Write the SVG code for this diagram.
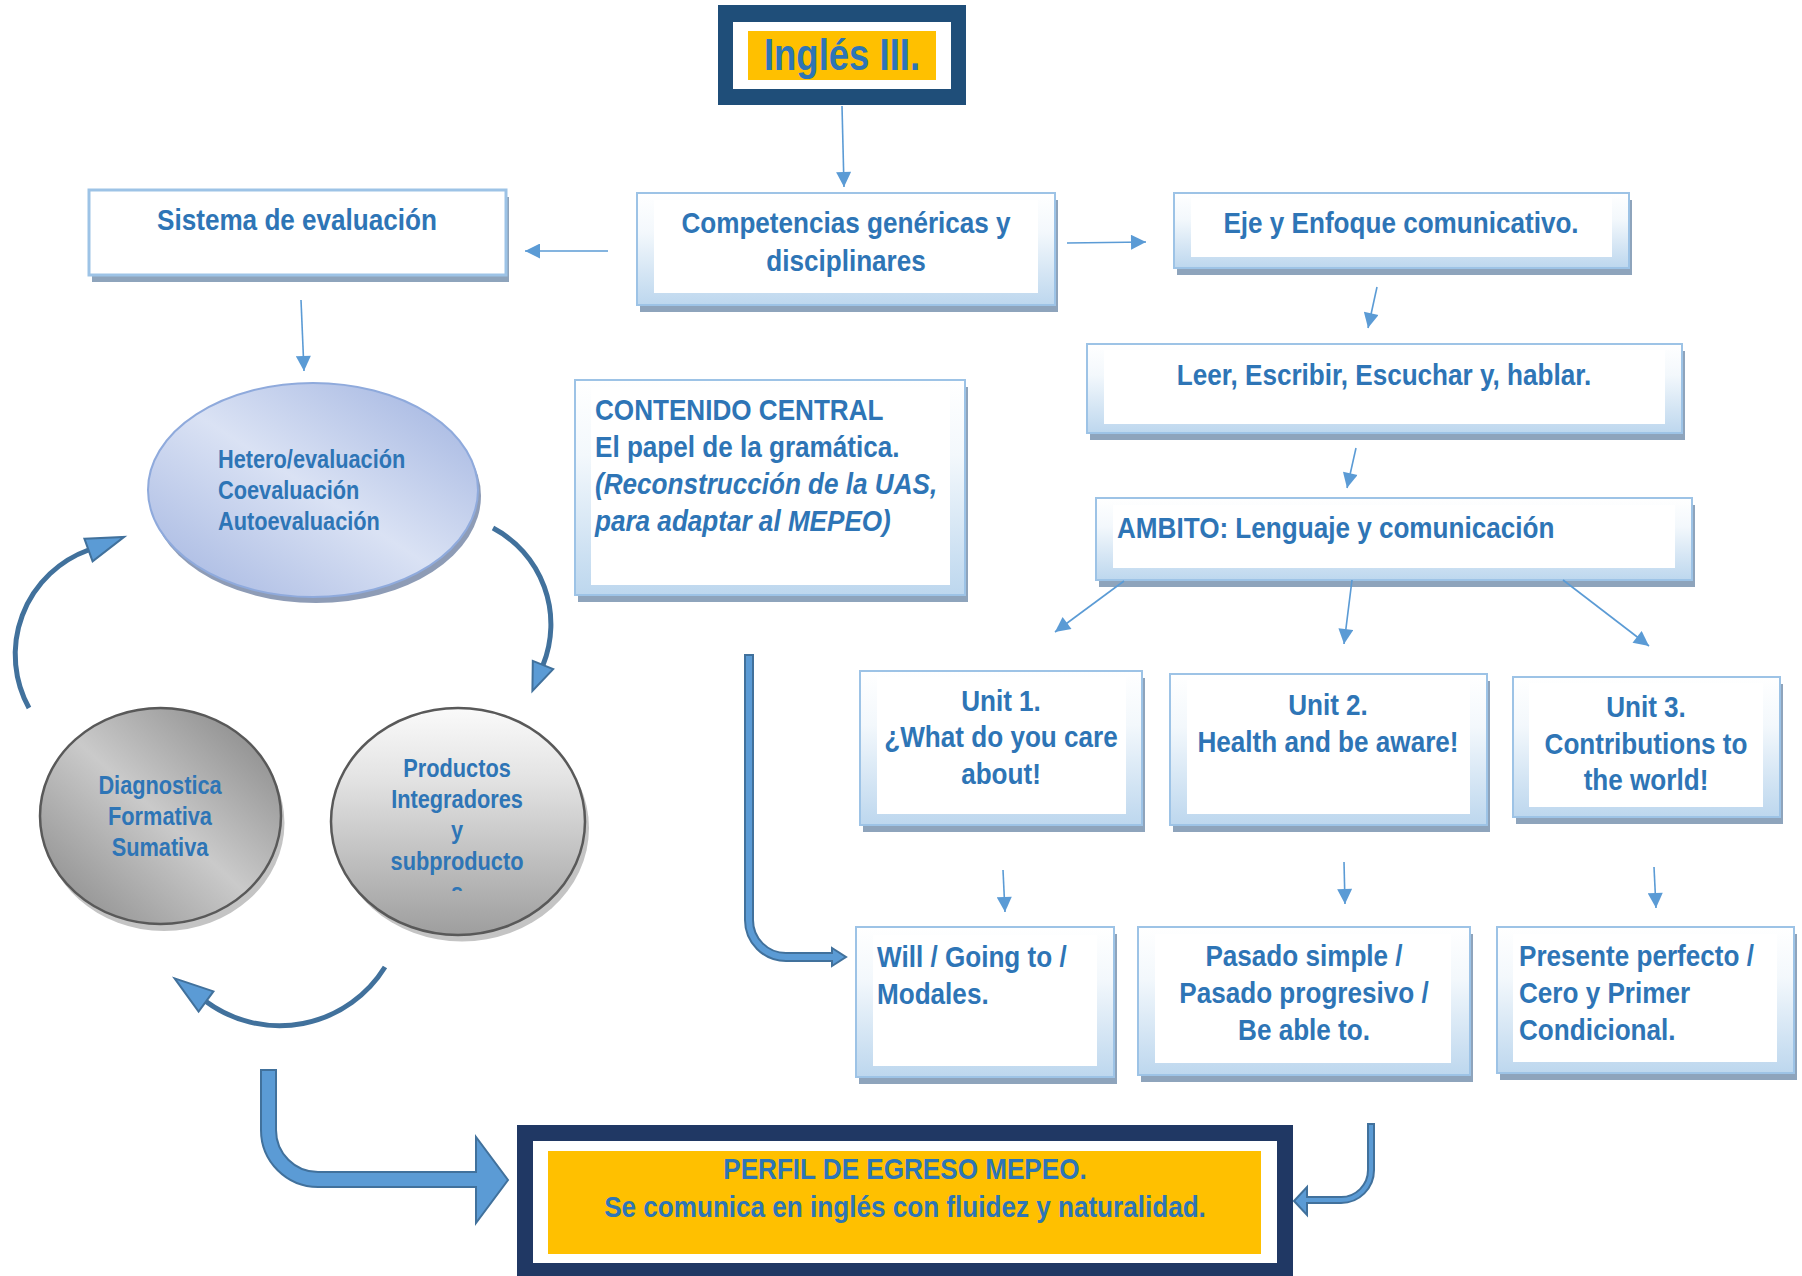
<svg xmlns="http://www.w3.org/2000/svg" width="1802" height="1276" viewBox="0 0 1802 1276">
<defs>
<style>
.t{font-family:"Liberation Sans",Arial,sans-serif;font-weight:bold;fill:#2E75B6;font-size:30px}
.c{text-anchor:middle}
.sm{font-size:25px}
.it{font-style:italic}
.shadow{fill:#8EA4BC}
.frame{fill:url(#frameGrad);stroke:#9DC3E6;stroke-width:2}
.inner{fill:#FFFFFF}
.thin{stroke:#5B9BD5;stroke-width:1.6;fill:none;marker-end:url(#ah)}
.arc{stroke:#41719C;stroke-width:5;fill:none}
.head{fill:#5B9BD5;stroke:#41719C;stroke-width:2;stroke-linejoin:miter}
.bent{fill:#5B9BD5;stroke:#41719C;stroke-width:2}
</style>
<linearGradient id="frameGrad" x1="0" y1="0" x2="0" y2="1">
<stop offset="0" stop-color="#FFFFFF"/>
<stop offset="0.35" stop-color="#F3F8FC"/>
<stop offset="1" stop-color="#BDD7EE"/>
</linearGradient>
<linearGradient id="blueGrad" x1="1" y1="0" x2="0" y2="1">
<stop offset="0" stop-color="#9EB1DF"/>
<stop offset="0.5" stop-color="#DAE2F4"/>
<stop offset="1" stop-color="#A2B4E0"/>
</linearGradient>
<linearGradient id="grayGrad" x1="1" y1="0" x2="0" y2="1">
<stop offset="0" stop-color="#808080"/>
<stop offset="0.5" stop-color="#CACACA"/>
<stop offset="1" stop-color="#858585"/>
</linearGradient>
<linearGradient id="gray2Grad" x1="0" y1="0" x2="0" y2="1">
<stop offset="0" stop-color="#FAFAFA"/>
<stop offset="0.3" stop-color="#E4E4E4"/>
<stop offset="1" stop-color="#9E9E9E"/>
</linearGradient>
<marker id="ah" viewBox="0 0 16 16" refX="16" refY="8" markerWidth="16" markerHeight="15" orient="auto" markerUnits="userSpaceOnUse">
<path d="M0,0 L16,8 L0,16 Z" fill="#5B9BD5"/>
</marker>
<clipPath id="prodClip"><rect x="320" y="700" width="280" height="191"/></clipPath>
</defs>
<rect width="1802" height="1276" fill="#FFFFFF"/>

<g id="node-ingles">
<rect x="718" y="5" width="248" height="100" fill="#1F4E79"/>
<rect x="733" y="22" width="218" height="67" fill="#FFFFFF"/>
<rect x="748" y="31" width="188" height="49" fill="#FFC000"/>
<g transform="translate(842,0) scale(0.83,1)"><text class="t c" x="0" y="70" style="font-size:44px">Inglés III.</text></g>
</g>

<g id="node-sistema">
<rect class="shadow" x="92" y="197" width="417" height="85"/>
<rect x="89" y="190" width="417" height="85" fill="#FFFFFF" stroke="#9DC3E6" stroke-width="3"/>
<g transform="translate(297,0) scale(0.87,1)"><text class="t c" x="0" y="230">Sistema de evaluación</text></g>
</g>

<g id="node-competencias">
<rect class="shadow" x="640" y="200" width="418" height="112"/>
<rect class="frame" x="637" y="193" width="418" height="112"/>
<rect class="inner" x="654" y="200" width="384" height="93"/>
<g transform="translate(846,0) scale(0.87,1)"><text class="t c"><tspan x="0" y="233">Competencias genéricas y</tspan><tspan x="0" y="271">disciplinares</tspan></text></g>
</g>

<g id="node-eje">
<rect class="shadow" x="1177" y="200" width="455" height="75"/>
<rect class="frame" x="1174" y="193" width="455" height="75"/>
<rect class="inner" x="1191" y="198" width="421" height="59"/>
<g transform="translate(1401,0) scale(0.87,1)"><text class="t c" x="0" y="233">Eje y Enfoque comunicativo.</text></g>
</g>

<g id="node-leer">
<rect class="shadow" x="1090" y="351" width="595" height="89"/>
<rect class="frame" x="1087" y="344" width="595" height="89"/>
<rect class="inner" x="1104" y="350" width="561" height="74"/>
<g transform="translate(1384,0) scale(0.87,1)"><text class="t c" x="0" y="385">Leer, Escribir, Escuchar y, hablar.</text></g>
</g>

<g id="node-ambito">
<rect class="shadow" x="1099" y="505" width="596" height="82"/>
<rect class="frame" x="1096" y="498" width="596" height="82"/>
<rect class="inner" x="1113" y="505" width="562" height="63"/>
<g transform="translate(1117,0) scale(0.87,1)"><text class="t" x="0" y="538">AMBITO: Lenguaje y comunicación</text></g>
</g>

<g id="node-contenido">
<rect class="shadow" x="578" y="387" width="390" height="215"/>
<rect class="frame" x="575" y="380" width="390" height="215"/>
<rect class="inner" x="591" y="387" width="359" height="198"/>
<g transform="translate(595,0) scale(0.87,1)"><text class="t"><tspan x="0" y="420">CONTENIDO CENTRAL</tspan><tspan x="0" y="457">El papel de la gramática.</tspan><tspan x="0" y="494" class="it">(Reconstrucción de la UAS,</tspan><tspan x="0" y="531" class="it">para adaptar al MEPEO)</tspan></text></g>
</g>

<g id="node-unit1">
<rect class="shadow" x="863" y="678" width="282" height="154"/>
<rect class="frame" x="860" y="671" width="282" height="154"/>
<rect class="inner" x="877" y="677" width="249" height="137"/>
<g transform="translate(1001,0) scale(0.87,1)"><text class="t c"><tspan x="0" y="711">Unit 1.</tspan><tspan x="0" y="747">¿What do you care</tspan><tspan x="0" y="784">about!</tspan></text></g>
</g>

<g id="node-unit2">
<rect class="shadow" x="1173" y="681" width="317" height="151"/>
<rect class="frame" x="1170" y="674" width="317" height="151"/>
<rect class="inner" x="1187" y="680" width="283" height="134"/>
<g transform="translate(1328,0) scale(0.87,1)"><text class="t c"><tspan x="0" y="715">Unit 2.</tspan><tspan x="0" y="752">Health and be aware!</tspan></text></g>
</g>

<g id="node-unit3">
<rect class="shadow" x="1516" y="684" width="267" height="140"/>
<rect class="frame" x="1513" y="677" width="267" height="140"/>
<rect class="inner" x="1529" y="683" width="234" height="124"/>
<g transform="translate(1646,0) scale(0.87,1)"><text class="t c"><tspan x="0" y="717">Unit 3.</tspan><tspan x="0" y="754">Contributions to</tspan><tspan x="0" y="790">the world!</tspan></text></g>
</g>

<g id="node-will">
<rect class="shadow" x="859" y="934" width="258" height="150"/>
<rect class="frame" x="856" y="927" width="258" height="150"/>
<rect class="inner" x="873" y="935" width="224" height="131"/>
<g transform="translate(877,0) scale(0.87,1)"><text class="t"><tspan x="0" y="967">Will / Going to /</tspan><tspan x="0" y="1004">Modales.</tspan></text></g>
</g>

<g id="node-pasado">
<rect class="shadow" x="1141" y="934" width="332" height="148"/>
<rect class="frame" x="1138" y="927" width="332" height="148"/>
<rect class="inner" x="1155" y="934" width="296" height="129"/>
<g transform="translate(1304,0) scale(0.87,1)"><text class="t c"><tspan x="0" y="966">Pasado simple /</tspan><tspan x="0" y="1003">Pasado progresivo /</tspan><tspan x="0" y="1040">Be able to.</tspan></text></g>
</g>

<g id="node-presente">
<rect class="shadow" x="1500" y="934" width="297" height="146"/>
<rect class="frame" x="1497" y="927" width="297" height="146"/>
<rect class="inner" x="1513" y="934" width="264" height="128"/>
<g transform="translate(1519,0) scale(0.87,1)"><text class="t"><tspan x="0" y="966">Presente perfecto /</tspan><tspan x="0" y="1003">Cero y Primer</tspan><tspan x="0" y="1040">Condicional.</tspan></text></g>
</g>

<g id="node-hetero">
<ellipse cx="316" cy="496" rx="165" ry="107" fill="#8E9CB6"/>
<ellipse cx="313" cy="490" rx="165" ry="107" fill="url(#blueGrad)" stroke="#8FAADC" stroke-width="2"/>
<g transform="translate(218,0) scale(0.87,1)"><text class="t sm"><tspan x="0" y="468">Hetero/evaluación</tspan><tspan x="0" y="499">Coevaluación</tspan><tspan x="0" y="530">Autoevaluación</tspan></text></g>
</g>

<g id="node-diagnostica">
<ellipse cx="164" cy="823" rx="120.5" ry="108" fill="#C4C4C4"/>
<ellipse cx="160.5" cy="816" rx="120.5" ry="108" fill="url(#grayGrad)" stroke="#595959" stroke-width="2.5"/>
<g transform="translate(160,0) scale(0.87,1)"><text class="t sm c"><tspan x="0" y="794">Diagnostica</tspan><tspan x="0" y="825">Formativa</tspan><tspan x="0" y="856">Sumativa</tspan></text></g>
</g>

<g id="node-productos">
<ellipse cx="462" cy="828" rx="127" ry="113.5" fill="#C4C4C4"/>
<ellipse cx="458" cy="821.5" rx="127" ry="113.5" fill="url(#gray2Grad)" stroke="#595959" stroke-width="2.5"/>
<g clip-path="url(#prodClip)"><g transform="translate(457,0) scale(0.87,1)"><text class="t sm c"><tspan x="0" y="777">Productos</tspan><tspan x="0" y="808">Integradores</tspan><tspan x="0" y="839">y</tspan><tspan x="0" y="870">subproducto</tspan><tspan x="0" y="901">s</tspan></text></g></g>
</g>

<g id="node-perfil">
<rect x="517" y="1125" width="776" height="160" fill="#203864"/>
<rect x="533" y="1141" width="744" height="122" fill="#FFFFFF"/>
<rect x="548" y="1151" width="713" height="103" fill="#FFC000"/>
<g transform="translate(905,0) scale(0.87,1)"><text class="t c"><tspan x="0" y="1179">PERFIL DE EGRESO MEPEO.</tspan><tspan x="0" y="1217">Se comunica en inglés con fluidez y naturalidad.</tspan></text></g>
</g>

<g id="connectors">
<line class="thin" x1="842" y1="106" x2="844" y2="187"/>
<line class="thin" x1="608" y1="251" x2="525" y2="251"/>
<line class="thin" x1="301" y1="300" x2="304" y2="371"/>
<line class="thin" x1="1067" y1="243" x2="1146" y2="242"/>
<line class="thin" x1="1377" y1="287" x2="1368" y2="328"/>
<line class="thin" x1="1356" y1="448" x2="1347" y2="488"/>
<line class="thin" x1="1124" y1="581" x2="1055" y2="632"/>
<line class="thin" x1="1352" y1="580" x2="1344" y2="644"/>
<line class="thin" x1="1563" y1="580" x2="1649" y2="646"/>
<line class="thin" x1="1003" y1="870" x2="1005" y2="912"/>
<line class="thin" x1="1344" y1="862" x2="1345" y2="904"/>
<line class="thin" x1="1654" y1="867" x2="1656" y2="908"/>

<path class="arc" d="M493,528 A109,109 0 0 1 543,665"/>
<polygon class="head" points="553.2,669.1 532.4,690.9 532.8,660.9"/>
<path class="arc" d="M385,967 A124,124 0 0 1 206,1001.5"/>
<polygon class="head" points="213.4,991.4 174.6,978.4 198.6,1011.6"/>
<path class="arc" d="M29,708 A111,111 0 0 1 88.5,550"/>
<polygon class="head" points="84.4,538.7 124.2,536.9 92.6,561.3"/>

<path class="bent" d="M261,1070 L276,1070 L276,1130 A42,42 0 0 0 318,1172 L476,1172 L476,1137 L508,1180 L476,1223 L476,1187 L318,1187 A57,57 0 0 1 261,1130 Z"/>
<path class="bent" d="M745,655 L753,655 L753,920 A33,33 0 0 0 786,953 L832,953 L832,948 L846,957 L832,966 L832,961 L786,961 A41,41 0 0 1 745,920 Z"/>
<path class="bent" d="M1368,1124 L1374,1124 L1374,1170 A33,33 0 0 1 1341,1203 L1307,1203 L1307,1215 L1294,1201 L1307,1187 L1307,1197 L1341,1197 A27,27 0 0 0 1368,1170 Z"/>
</g>
</svg>
